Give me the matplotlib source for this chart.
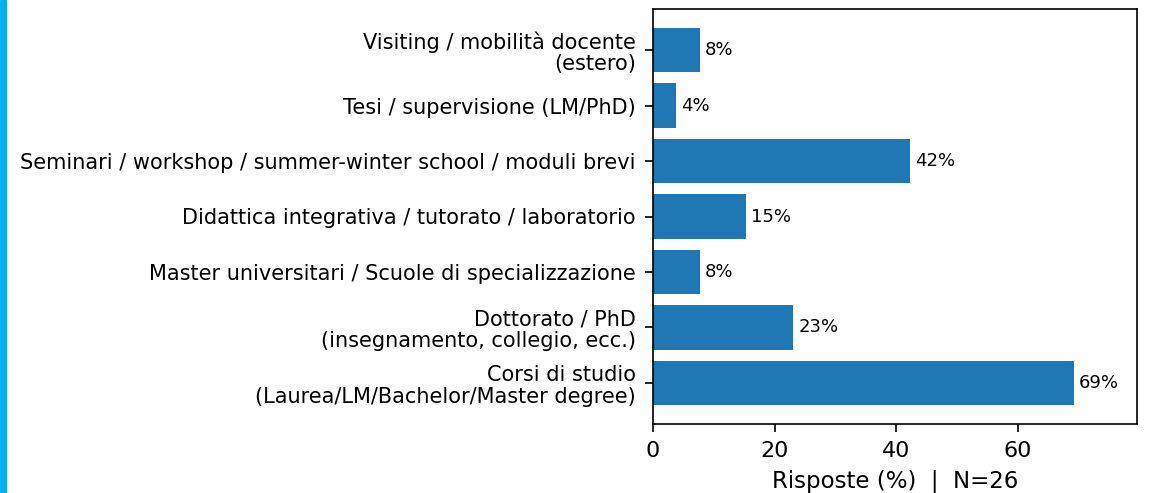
import matplotlib
matplotlib.use("Agg")
import matplotlib.pyplot as plt
from matplotlib.patches import Rectangle

categories = [
    "Corsi di studio\n(Laurea/LM/Bachelor/Master degree)",
    "Dottorato / PhD\n(insegnamento, collegio, ecc.)",
    "Master universitari / Scuole di specializzazione",
    "Didattica integrativa / tutorato / laboratorio",
    "Seminari / workshop / summer-winter school / moduli brevi",
    "Tesi / supervisione (LM/PhD)",
    "Visiting / mobilità docente\n(estero)",
]
values = [69.23, 23.08, 7.69, 15.38, 42.31, 3.85, 7.69]
labels = ["69%", "23%", "8%", "15%", "42%", "4%", "8%"]
n_resp = 26

fig = plt.figure(figsize=(11.63, 4.93), dpi=100)
ax = fig.add_axes([653/1163, 1-424/493, (1137-653)/1163, (424-9)/493])

ypos = list(range(len(categories)))
ax.barh(ypos, values, height=0.8, color="#1f77b4")
ax.set_yticks(ypos)
ax.set_yticklabels(categories, fontsize=15, linespacing=1.1)
ax.tick_params(axis="y", length=6, width=1.2, pad=6.5)
ax.tick_params(axis="x", labelsize=16, length=5.5, width=1.2, pad=6.5)
for y, v, t in zip(ypos, values, labels):
    ax.text(v + 0.8, y, t, va="center", ha="left", fontsize=13)
ax.set_xlim(0, max(values) * 1.15)
ax.set_xticks([0, 20, 40, 60])
ax.set_xlabel(f"Risposte (%)  |  N={n_resp}", fontsize=16.5, labelpad=7)
for s in ax.spines.values():
    s.set_linewidth(1.2)

fig.patches.append(Rectangle((0, 0), 6/1163, 1, transform=fig.transFigure,
                             color="#00b0f0", zorder=10))

fig.savefig("out.png", dpi=100)
